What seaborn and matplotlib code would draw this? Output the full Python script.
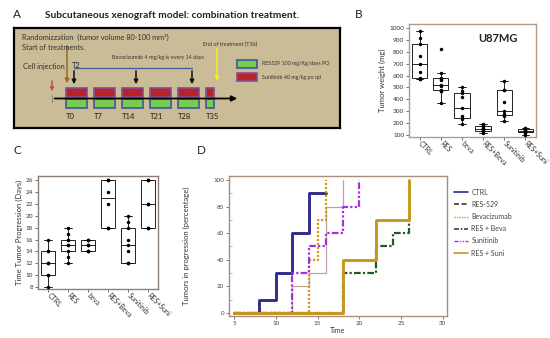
import numpy as np
import pandas as pd
import matplotlib
matplotlib.use('Agg')
import matplotlib.pyplot as plt
from matplotlib.patches import Rectangle
from matplotlib.lines import Line2D
import seaborn as sns

sns.set_style('ticks')
plt.rcParams['font.family'] = ['Lato', 'DejaVu Sans']

# ---- panel A: treatment schedule (days)
t_labels = ['T0', 'T7', 'T14', 'T21', 'T28', 'T35']
t_days = [0, 7, 14, 21, 28, 35]
t_len = [5.25, 5.25, 5.25, 5.25, 5.25, 2]
bev_days = [2, 17.5, 31.5]
injection_day = -3.5
random_day = 0.25
end_day = 37.75

# ---- panel B: tumor weight (mg)
groups = ['CTRL', 'RES', 'beva', 'RES+Beva', 'Sunitinib', 'RES+Suni']
w_ctrl = [570, 575, 580, 630, 700, 765, 865, 920, 975]
w_res = [370, 470, 470, 480, 510, 520, 560, 575, 580, 625, 820]
w_beva = [190, 235, 240, 260, 330, 420, 450, 470, 505]
w_res_beva = [120, 130, 135, 140, 150, 160, 175, 180, 190]
w_suni = [220, 260, 270, 280, 300, 375, 475, 480, 555]
w_res_suni = [100, 120, 125, 130, 135, 140, 150, 155, 160]

# ---- panel C: time to tumor progression (days)
p_ctrl = [8, 10, 10, 12, 12, 12, 14, 14, 16]
p_res = [12, 13, 14, 15, 15, 16, 16, 17, 18]
p_beva = [14, 14, 14, 15, 15, 15, 16, 16, 16]
p_res_beva = [18, 18, 18, 22, 24, 26, 26, 26]
p_suni = [12, 12, 12, 14, 15, 16, 18, 19, 20]
p_res_suni = [18, 18, 18, 22, 22, 22, 26, 26, 26]

# ---- panel D: tumors in progression (%)
ctrl_t = [5, 8, 10, 12, 14, 16]
ctrl_y = [0, 10, 30, 60, 90, 90]
res_t = [5, 12, 14, 16, 18]
res_y = [0, 20, 30, 80, 100]
beva_t = [5, 14, 15, 16]
beva_y = [0, 40, 70, 100]
resbeva_t = [5, 18, 22, 24, 26]
resbeva_y = [0, 30, 50, 60, 70]
suni_t = [5, 12, 14, 16, 18, 20]
suni_y = [0, 30, 50, 60, 80, 100]
ressuni_t = [5, 18, 22, 26]
ressuni_y = [0, 40, 70, 100]


def long_df(lists):
    rows = []
    for g, vals in zip(groups, lists):
        for v in vals:
            rows.append((g, v))
    return pd.DataFrame(rows, columns=['group', 'value'])


fig = plt.figure(figsize=(5.5, 3.38), dpi=100)

# ================= A =================
axA = fig.add_axes([14 / 550, 1 - 128 / 338, 326 / 550, 100 / 338])
axA.set_xlim(-13, 68.5)
axA.set_ylim(128, 28)
axA.set_facecolor('#c9bc96')
axA.set_xticks([])
axA.set_yticks([])
for s in axA.spines.values():
    s.set_linewidth(1.6)
    s.set_color('black')

for d, w in zip(t_days, t_len):
    axA.add_patch(Rectangle((d, 88), w, 9, facecolor='#b8232a', edgecolor='#8a4a9a', lw=1.2))
    axA.add_patch(Rectangle((d, 99.5), w, 8.5, facecolor='#78cc52', edgecolor='#3c5a98', lw=1.2))
for lab, d in zip(t_labels, t_days):
    axA.text(d, 117, lab, fontsize=5.5, color='#222222', va='center', ha='left')

axA.annotate('', xy=(43.5, 98.5), xytext=(injection_day, 98.5),
             arrowprops=dict(arrowstyle='-|>', color='black', lw=1.3, mutation_scale=8))
axA.plot([injection_day, injection_day], [95, 102], color='#888888', lw=0.8)

axA.plot([bev_days[0], bev_days[-1]], [68, 68], color='#4a5a9a', lw=0.9)
for d in bev_days:
    axA.annotate('', xy=(d, 87), xytext=(d, 68),
                 arrowprops=dict(arrowstyle='-|>', color='#111111', lw=1.1, mutation_scale=6))
axA.annotate('', xy=(injection_day, 94), xytext=(injection_day, 78),
             arrowprops=dict(arrowstyle='-|>', color='#c0502a', lw=1.0, mutation_scale=5))
axA.annotate('', xy=(random_day, 86), xytext=(random_day, 43),
             arrowprops=dict(arrowstyle='-|>', color='#9a6a1a', lw=1.1, mutation_scale=6))
axA.annotate('', xy=(end_day, 84), xytext=(end_day, 46),
             arrowprops=dict(arrowstyle='-|>', color='#f5f020', lw=1.1, mutation_scale=6))

axA.text(-11, 37, 'Randomizzation  (tumor volume 80-100 mm\u00b3)', fontsize=5.3, color='#333333', va='center')
axA.text(-11, 47, 'Start of treatments.', fontsize=5.3, color='#333333', va='center')
axA.text(-10.75, 67, 'Cell injection', fontsize=5.3, color='#333333', va='center')
axA.text(1.5, 66, 'T2', fontsize=5.3, color='#222222', va='center')
axA.text(23, 58, 'Bevacizumab 4 mg/kg iv every 14 days', fontsize=3.9, color='#333333', va='center', ha='center')
axA.text(41, 44, 'End of treatment (T36)', fontsize=3.9, color='#333333', va='center', ha='center')

axA.add_patch(Rectangle((42.75, 60), 5, 8, facecolor='#78cc52', edgecolor='#3c5a98', lw=1.2))
axA.add_patch(Rectangle((42.75, 73), 5, 8, facecolor='#b8232a', edgecolor='#8a4a9a', lw=1.2))
axA.text(49, 64, 'RES529 100 mg/Kg/days PO', fontsize=3.8, color='#333333', va='center')
axA.text(49, 77, 'Sunitinib 40 mg/kg po qd', fontsize=3.8, color='#333333', va='center')

fig.text(172 / 550, 1 - 16 / 338, 'Subcutaneous xenograft model: combination treatment.',
         fontsize=7.3, fontweight='bold', ha='center', va='center', color='#222222')
for lab, x, y in [('A', 13, 15), ('B', 355, 15), ('C', 14, 150), ('D', 197, 150)]:
    fig.text(x / 550, 1 - y / 338, lab, fontsize=8.5, ha='left', va='center', color='#222222')


def box_panel(ax, df, frame_color):
    sns.boxplot(data=df, x='group', y='value', order=groups, color='white', linecolor='black',
                linewidth=0.6, width=0.72, showfliers=False, ax=ax)
    sns.stripplot(data=df, x='group', y='value', order=groups, color='black', jitter=False,
                  size=2.5, ax=ax)
    ax.set_xlabel('')
    for s in ax.spines.values():
        s.set_visible(True)
        s.set_color(frame_color)
        s.set_linewidth(1.0)
    ax.tick_params(axis='both', labelsize=4.6, length=2, width=0.5, colors='#333333', pad=1.5)
    plt.setp(ax.get_xticklabels(), rotation=-45, ha='left', va='center', rotation_mode='anchor', fontsize=5)


# ================= B =================
axB = fig.add_axes([409 / 550, 1 - 137 / 338, 127 / 550, 113 / 338])
box_panel(axB, long_df([w_ctrl, w_res, w_beva, w_res_beva, w_suni, w_res_suni]), '#b49a8a')
axB.set_ylim(83, 1034)
axB.set_yticks(range(100, 1001, 100))
axB.set_ylabel('Tumor weight (mg)', fontsize=5.5, labelpad=2, color='#333333')
axB.text(0.70, 0.876, 'U87MG', transform=axB.transAxes, fontsize=8, fontweight='bold',
         ha='center', va='center', color='#222222')

# ================= C =================
axC = fig.add_axes([38 / 550, 1 - 289 / 338, 120 / 550, 113 / 338])
box_panel(axC, long_df([p_ctrl, p_res, p_beva, p_res_beva, p_suni, p_res_suni]), '#8e7e74')
axC.set_ylim(7.66, 26.7)
axC.set_yticks(range(8, 27, 2))
axC.set_ylabel('Time Tumor Progression (Days)', fontsize=5.5, labelpad=2, color='#333333')

# ================= D =================
axD = fig.add_axes([229 / 550, 1 - 316 / 338, 218 / 550, 140 / 338])
series = [
    ('RES-529', res_t, res_y, '#b8a49a', 0.9, '-'),
    ('CTRL', ctrl_t, ctrl_y, '#2e2e8e', 2.1, '-'),
    ('Bevacizumab', beva_t, beva_y, '#d49a1e', 1.6, (0, (1, 0.8))),
    ('Sunitinib', suni_t, suni_y, '#a52ee0', 1.6, (0, (3, 1, 1, 1, 1, 1))),
    ('RES + Beva', resbeva_t, resbeva_y, '#1e5a22', 1.6, (0, (3, 1, 1, 1))),
    ('RES + Suni', ressuni_t, ressuni_y, '#c8961e', 2.1, '-'),
]
for name, t, y, c, lw, ls in series:
    sns.lineplot(x=t, y=y, drawstyle='steps-post', color=c, linewidth=lw, linestyle=ls, ax=axD)
axD.set_xlim(4.4, 30.5)
axD.set_ylim(-2.3, 103)
axD.set_xticks(range(5, 31, 5))
axD.set_yticks(range(0, 101, 20))
axD.set_yticks(range(10, 100, 20), minor=True)
axD.tick_params(axis='both', labelsize=4.5, length=2, width=0.5, colors='#444444', pad=1.5)
axD.tick_params(axis='y', which='minor', direction='in', length=2, width=0.5, colors='#999999')
for s in axD.spines.values():
    s.set_visible(True)
    s.set_color('#a88e7e')
    s.set_linewidth(1.0)
axD.set_xlabel('Time', fontsize=5, labelpad=1, color='#333333')
axD.set_ylabel('Tumors in progression (percentage)', fontsize=5.5, labelpad=17, color='#333333')

handles = [
    Line2D([], [], color='#2e2e8e', lw=1.2),
    Line2D([], [], color='#5a2d0c', lw=1.2, ls=(0, (3, 1.5))),
    Line2D([], [], color='#d49a1e', lw=1.0, ls=(0, (1, 0.8))),
    Line2D([], [], color='#1e5a22', lw=1.2, ls=(0, (3, 1, 1, 1))),
    Line2D([], [], color='#a52ee0', lw=1.0, ls=(0, (3, 1, 1, 1, 1, 1))),
    Line2D([], [], color='#c8961e', lw=1.2),
]
labels = ['CTRL', 'RES-529', 'Bevacizumab', 'RES + Beva', 'Sunitinib', 'RES + Suni']
axD.legend(handles, labels, loc='upper left', bbox_to_anchor=(1.02, 0.93), frameon=False,
           fontsize=5, handlelength=2.0, handletextpad=0.5, labelspacing=0.75, borderaxespad=0,
           labelcolor='#444444')

fig.savefig('out.png', dpi=100)
